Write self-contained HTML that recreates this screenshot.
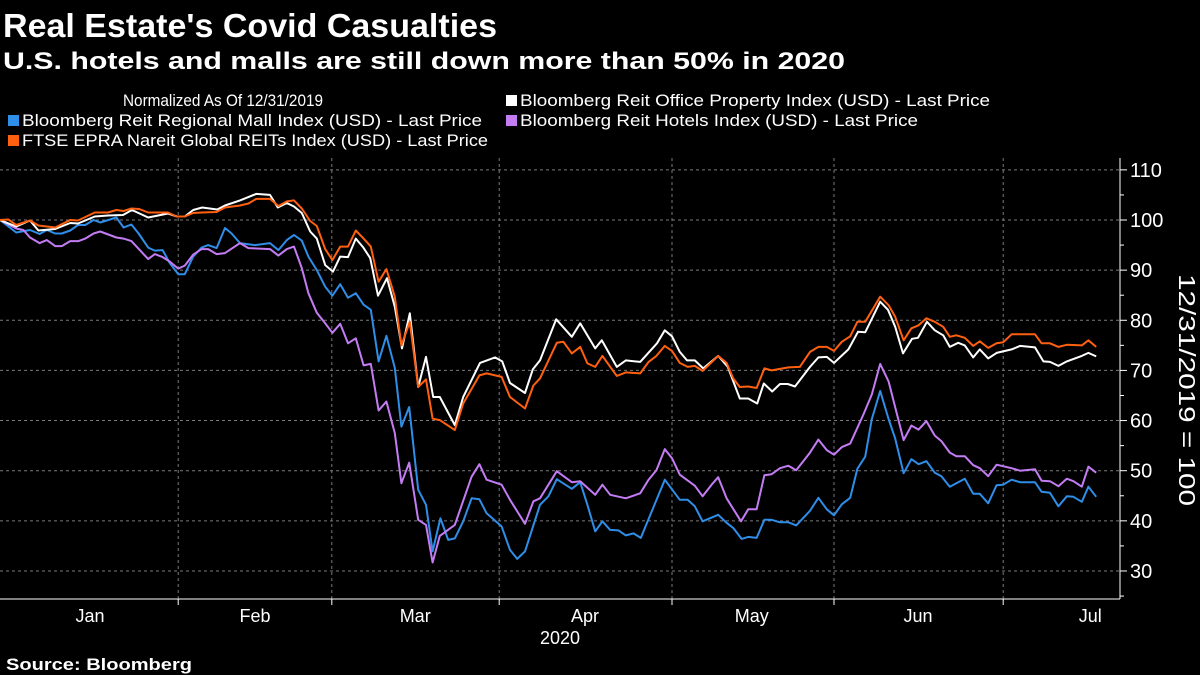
<!DOCTYPE html>
<html><head><meta charset="utf-8"><style>
html,body{margin:0;padding:0;background:#000;width:1200px;height:675px;overflow:hidden}
svg text{font-family:"Liberation Sans","DejaVu Sans",sans-serif;fill:#fff}
</style></head><body>
<svg id="chart" width="1200" height="675" viewBox="0 0 1200 675" xmlns="http://www.w3.org/2000/svg">
<rect width="1200" height="675" fill="#000"/>
<text x="3" y="37" font-size="33" font-weight="bold" textLength="494" lengthAdjust="spacingAndGlyphs">Real Estate's Covid Casualties</text>
<text x="3" y="69" font-size="24" font-weight="bold" textLength="842" lengthAdjust="spacingAndGlyphs">U.S. hotels and malls are still down more than 50% in 2020</text>
<g font-size="17">
<text x="123" y="106" textLength="200" lengthAdjust="spacingAndGlyphs">Normalized As Of 12/31/2019</text>
<g><rect x="8" y="115" width="11" height="11" fill="#2e8ee8"/><text x="22" y="126" textLength="460" lengthAdjust="spacingAndGlyphs">Bloomberg Reit Regional Mall Index (USD) - Last Price</text></g>
<g><rect x="8" y="135" width="11" height="11" fill="#ff6010"/><text x="22" y="146" textLength="466" lengthAdjust="spacingAndGlyphs">FTSE EPRA Nareit Global REITs Index (USD) - Last Price</text></g>
<g><rect x="506" y="95" width="11" height="11" fill="#ffffff"/><text x="520" y="106" textLength="470" lengthAdjust="spacingAndGlyphs">Bloomberg Reit Office Property Index (USD) - Last Price</text></g>
<g><rect x="506" y="115" width="11" height="11" fill="#c47cf5"/><text x="520" y="126" textLength="398" lengthAdjust="spacingAndGlyphs">Bloomberg Reit Hotels Index (USD) - Last Price</text></g>
</g>
<g id="grid"></g>
<g id="axes"></g>
<g id="series"></g>
<text transform="translate(1179,390) rotate(90)" font-size="23" text-anchor="middle" textLength="232" lengthAdjust="spacingAndGlyphs">12/31/2019 = 100</text>
<text x="560" y="644" font-size="18" text-anchor="middle">2020</text>
<text x="6" y="670" font-size="17" font-weight="bold" textLength="186" lengthAdjust="spacingAndGlyphs">Source: Bloomberg</text>
</svg>
<script>
const yTicks=[30,40,50,60,70,80,90,100,110];
const monthLabels=["Jan","Feb","Mar","Apr","May","Jun","Jul"];
const monthLabelDays=[15,42.5,69.2,97.5,125.3,153,181.7];
const gridDays=[29.7,55.3,83.2,112,139,167.2];
const mallDays=[0,2.7,5,6.6,7.8,9.2,10.3,11.7,13,14.2,15.6,16.7,19.4,20.6,21.9,23.1,24.7,25.8,27.1,28.3,29.7,30.8,32.2,33.6,34.7,36.1,37.5,38.6,40,42.5,45,46.4,47.8,49,50.3,51.4,52.8,54.2,55.4,56.7,58,59.3,60.6,61.8,63.1,64.4,65.8,66.9,68.2,69.7,71,72.1,73.4,74.7,75.8,77.2,78.6,79.9,81.1,83.6,85,86.2,87.5,90,91.4,92.8,95.3,96.7,97.9,99.2,100.4,101.7,103.1,104.3,105.6,106.8,110.8,113.3,114.6,115.8,117.1,119.7,121.1,122.2,123.6,124.7,126.1,127.4,128.6,130,131.4,132.7,135,136.4,137.8,139,140.3,141.7,142.9,144.2,145.3,146.7,148.1,149.2,150.6,151.9,153.1,154.4,155.8,156.9,158.3,160.8,162.2,163.3,164.7,166.1,167.2,168.6,170,172.5,173.6,175,176.4,177.8,178.9,180.3,181.4,182.7];
const mallValues=[100,97.5,98,97.2,98,97.3,97.3,97.9,99,99,100,99.5,100.5,98.5,99.1,97.3,94.5,93.9,94,91.4,89.2,89.2,92.7,94.5,95,94.4,98.4,97.3,95.4,95,95.4,94,96,97,95.9,92.7,90,86.7,84.9,87.2,84.5,85.4,83.1,82.1,71.8,76.9,70.5,58.8,62.7,46.2,43.2,33.9,40.5,36.2,36.5,39.9,44.5,44.3,41.5,38.9,34.2,32.4,33.9,43.2,44.9,48.3,46.4,47.7,43.2,37.9,39.9,38.2,38.1,37.1,37.5,36.6,48.2,44.2,44.2,42.9,39.9,41.2,39.6,38.6,36.4,36.8,36.6,40.2,40.2,39.7,39.7,39.1,42,44.6,42.3,41.1,43.3,44.6,50.4,52.8,60.3,65.9,60.3,56.4,49.5,52.3,51.3,51.9,49.6,48.9,46.8,48.4,45.4,45.4,43.5,47.1,47.2,48.2,47.7,47.7,45.8,45.6,42.9,44.9,44.8,43.8,46.8,44.8];
const hotelDays=[0,2.7,3.9,5,6.6,7.8,9.2,10.3,11.7,13.1,14.2,15.6,16.7,19.4,20.6,21.9,23.3,24.7,25.8,27.1,28.3,29.7,30.8,32.2,33.6,34.7,36.1,37.5,40,41.4,45,46.4,47.8,49,50.3,51.4,52.8,54.2,55.4,56.7,58,59.3,60.6,61.8,63.1,64.4,65.8,66.9,68.2,69.7,71,72.1,73.3,75.8,78.6,79.9,81.1,83.6,85,87.5,88.9,90,92.8,95.3,96.7,99.2,100.4,101.7,104.3,106.7,108.1,109.4,110.8,112,113.3,115.8,117.1,118.6,119.7,121.1,123.5,124.7,126.1,127.4,128.6,130,131.4,132.7,135,136.4,137.8,139,140.3,141.7,143.9,145.3,146.7,148.1,150.6,151.9,153.1,154.4,155.8,156.9,158.3,159.4,160.8,162.2,163.3,164.7,166.1,168.6,170,172.5,173.6,175,176.4,177.8,178.9,180.3,181.4,182.7];
const hotelValues=[100,98.3,98,96.5,95.4,96,94.8,94.8,95.8,95.8,96.3,97.3,97.7,96.5,96.3,95.8,94,92.2,93.2,92.6,91.7,90.3,90.9,93.1,94.2,94.2,93.2,93.4,95.4,94.4,94.2,92.9,94.2,94.7,90.4,85.4,81.5,79.4,77.5,79.3,75.4,76.4,71,71.3,62,63.8,57.5,47.5,51.6,40.2,39.2,31.7,37,39.2,48.8,51.3,48.2,47.2,44.2,39.4,43.9,44.5,49.9,47.7,47.9,45.2,47.2,45.2,44.5,45.5,48.2,50.1,54.3,52.5,49.2,47,44.9,47.2,48.7,44.5,39.9,42.3,42.3,49.1,49.3,50.5,51,50.1,53.6,56.2,54.1,53.2,54.7,55.4,61.2,65.2,71.3,67.8,56.1,59,58.2,59.9,57,55.9,53.6,52.9,52.9,51.1,50.5,48.9,51.2,50.5,50,50.3,48,47.9,46.9,48.4,47.9,46.8,50.8,49.6];
const officeDays=[0,2.7,5,6.4,9.2,11.7,13,15.8,18,20.5,22,24.7,28,29.5,30.8,32.2,33.7,36.2,37.5,40,42.7,45,46.3,47.8,49,50.3,51.7,52.8,54.2,55.5,56.7,58,59.3,60.5,61.7,63,64.5,65.8,67,68.3,69.7,71,72.2,73.3,75.8,77.2,80,82.5,83.7,85,87.5,88.8,90,92.7,95.3,96.7,99.2,100.3,102.8,104.3,106.7,109.5,110.8,112,113.3,114.5,115.8,117.2,119.7,121.3,123.3,124.7,126.2,127.3,128.7,130,131.3,132.5,135,136.4,137.8,139,141.4,143,144.2,146.7,148,149.2,150.5,152,153,154.5,155.8,157.2,158.3,159.7,160.8,162.2,163.3,164.7,166.1,168.6,170,172.5,173.9,175,176.4,177.8,180.3,181.4,182.7];
const officeValues=[100,98.7,99.9,97.9,98.2,99.4,99.3,100.7,100.9,101,102,100.5,101.3,100.7,100.7,102,102.5,102.1,102.9,103.9,105.2,105,102.5,103.4,102.7,101.4,97.7,96.3,91,89.7,92.7,92.6,96.3,94.6,92.4,84.9,88.4,82.7,74.4,81.4,66.7,72.7,64.7,64.7,59.1,64.7,71.5,72.6,71.8,67.5,65.5,70.2,72,80.2,76.7,79.4,74.4,76,70.7,72,71.7,75.4,78,76.8,73.7,72,72,70.4,72.9,70.7,64.4,64.4,63.4,67.4,65.8,67.3,67.3,66.8,70.7,72.6,72.7,71.5,74.2,77.7,77.6,83.7,82.1,78.7,73.4,76.3,76.5,79.7,78,77,74.7,75.5,75,72.6,74.2,72.4,73.5,74.2,74.9,74.6,71.8,71.7,70.9,71.8,72.9,73.5,72.8];
const ftseDays=[0,1.4,2.7,5,6.4,9.2,11.7,13,15.8,18,19.4,20.6,21.9,23.2,24.7,28,29.4,30.8,32.2,33.6,36.1,37.5,40,41.4,42.7,45,46.4,47.8,49,50.3,51.7,52.8,54.2,55.4,56.7,58,59.3,60.6,61.8,63.1,64.4,65.8,66.9,68.3,69.7,71,72.1,73.3,75.8,77.2,79.9,81.1,83.6,85,87.5,88.9,90,92.8,93.9,95.3,96.7,97.9,99.2,100.4,102.8,104.3,106.7,108.1,109.4,110.8,112,113.3,114.6,115.8,117.1,119.7,121.1,122.2,123.3,124.7,126.1,127.4,128.6,131.4,133.3,135,136.4,137.8,139,140.3,141.7,142.9,144.2,146.7,148.1,149.2,150.6,151.9,153.1,154.4,155.8,157.2,158.3,159.4,160.8,162.2,163.3,164.7,166.1,167.2,168.6,172.5,173.6,175,176.4,177.8,180.3,181.4,182.7];
const ftseValues=[100,100.1,99,99.9,98.9,98.5,100,99.9,101.5,101.5,102,101.8,102.3,102.2,101.5,101.5,100.7,100.7,101.4,101.5,101.6,102.5,102.9,103.3,104.2,104.2,102.8,103.7,103.9,102.3,99.8,98.8,94.2,92,94.7,94.7,97.9,96.3,94.7,87.7,90.2,84.7,75,79.7,66.7,68.2,60.4,60.1,58.1,63.4,69,69.4,68.7,64.7,62.4,67,68.4,75.5,75.7,73.4,74.7,71.4,70.7,72.9,68.9,69.6,69.4,71.7,72.9,74.9,73.9,71.5,70.7,70.9,69.9,72.9,71.5,68.4,66.7,66.8,66.5,70.4,70,70.6,70.7,73.7,74.7,74.7,73.9,75.7,76.8,79.7,79.7,84.7,83,80.7,76,78.4,79,80.4,79.7,78.7,76.7,77,76.5,74.9,75.8,74.5,75.4,75.6,77.2,77.2,75.4,75.4,74.7,75.1,75,76,74.7];

const NS="http://www.w3.org/2000/svg";
const plotL=0,plotR=1120,plotT=158,plotB=599;
function xs(d){return d*6;}
function ys(v){return 220+(100-v)*5.014;}
function mk(tag,attrs,parent){const e=document.createElementNS(NS,tag);for(const k in attrs)e.setAttribute(k,attrs[k]);parent.appendChild(e);return e;}
const grid=document.getElementById('grid'),axes=document.getElementById('axes'),ser=document.getElementById('series');
yTicks.forEach(v=>{
  const l=mk('line',{x1:plotL,x2:plotR,y1:ys(v),y2:ys(v),stroke:'#7a7a7a','stroke-width':1,'stroke-dasharray':'3,3'},grid);
  
  
  const t=mk('line',{x1:plotR,x2:plotR+7,y1:ys(v),y2:ys(v),stroke:'#fff','stroke-width':1},axes);
  
  
  const tx=mk('text',{x:plotR+10,y:ys(v)+7,'font-size':20},axes);
  tx.textContent=v;
  
  
  const m=mk('line',{x1:plotR,x2:plotR+4,y1:ys(v-5),y2:ys(v-5),stroke:'#fff','stroke-width':1},axes);
  
  
});
gridDays.forEach(d=>{
  const l=mk('line',{x1:xs(d),x2:xs(d),y1:plotT,y2:plotB,stroke:'#7a7a7a','stroke-width':1,'stroke-dasharray':'3,3'},grid);
  
  
  const t=mk('line',{x1:xs(d),x2:xs(d),y1:plotB,y2:plotB+6,stroke:'#fff','stroke-width':1},axes);
  
  
});
monthLabels.forEach((m,i)=>{
  const t=mk('text',{x:xs(monthLabelDays[i]),y:622,'font-size':18,'text-anchor':'middle'},axes);
  t.textContent=m;
  
  
});
const xa=mk('line',{x1:0,x2:plotR,y1:plotB,y2:plotB,stroke:'#fff','stroke-width':1},axes);


const ya=mk('line',{x1:plotR,x2:plotR,y1:plotT,y2:plotB,stroke:'#fff','stroke-width':1},axes);


function draw(days,vals,color,name){
  const pts=days.map((d,i)=>xs(d).toFixed(1)+','+ys(vals[i]).toFixed(1)).join(' ');
  const p=mk('polyline',{points:pts,fill:'none',stroke:color,'stroke-width':2,'stroke-linejoin':'round'},ser);
  
  
}
draw(mallDays,mallValues,'#2e8ee8','mall-index-line');
draw(hotelDays,hotelValues,'#c47cf5','hotels-index-line');
draw(officeDays,officeValues,'#ffffff','office-index-line');
draw(ftseDays,ftseValues,'#ff6010','ftse-reits-line');
</script>
</body></html>
